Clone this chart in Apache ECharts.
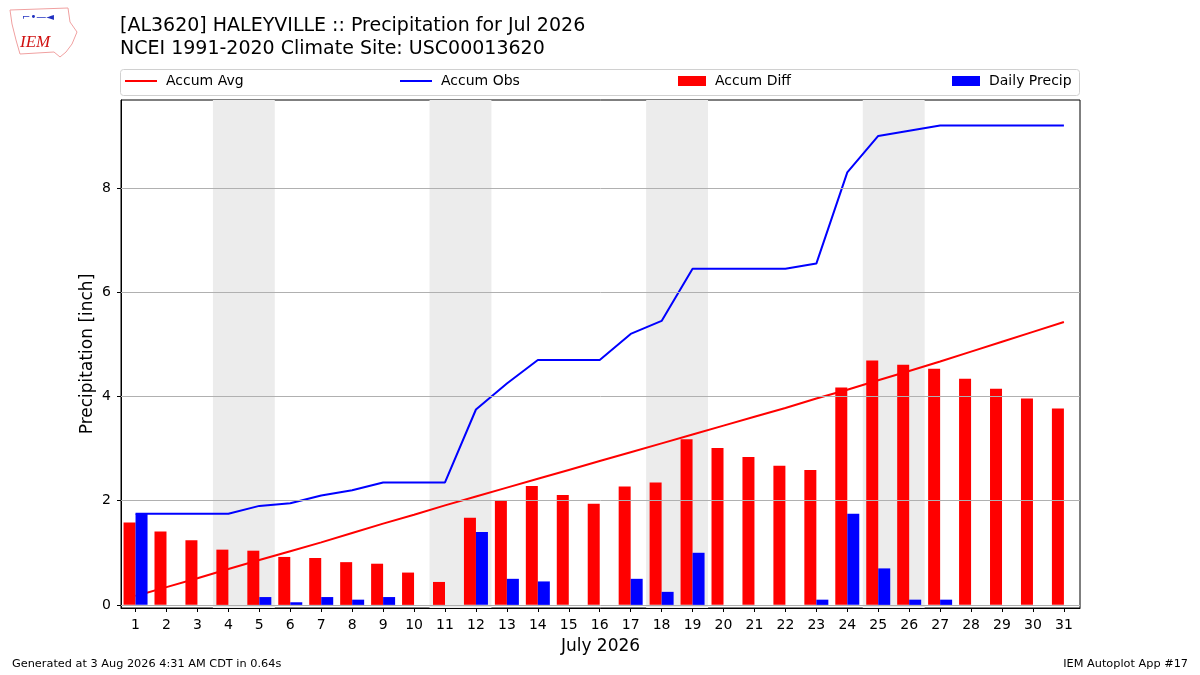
<!DOCTYPE html>
<html>
<head>
<meta charset="utf-8">
<script src="https://cdn.jsdelivr.net/npm/echarts@6/dist/echarts.min.js"></script>
<style>
  html, body { margin: 0; padding: 0; background: #fff; }
  #chart-1 { width: 1200px; height: 675px; }
</style>
</head>
<body>
<div id="chart-1"></div>
<script>
/**Data**/
var days = [1, 2, 3, 4, 5, 6, 7, 8, 9, 10, 11, 12, 13, 14, 15, 16, 17, 18, 19, 20, 21, 22, 23, 24, 25, 26, 27, 28, 29, 30, 31];
var accumAvg = [0.17, 0.34, 0.51, 0.69, 0.86, 1.03, 1.20, 1.38, 1.56, 1.73, 1.91, 2.08, 2.25, 2.42, 2.59, 2.76,
  2.93, 3.10, 3.27, 3.44, 3.61, 3.78, 3.96, 4.13, 4.31, 4.49, 4.67, 4.86, 5.05, 5.24, 5.43];
var accumObs = [1.75, 1.75, 1.75, 1.75, 1.90, 1.95, 2.10, 2.20, 2.35, 2.35, 2.35, 3.75, 4.25, 4.70, 4.70, 4.70,
  5.20, 5.45, 6.45, 6.45, 6.45, 6.45, 6.55, 8.30, 9.00, 9.10, 9.20, 9.20, 9.20, 9.20, 9.20];
var accumDiff = [1.58, 1.41, 1.24, 1.06, 1.04, 0.92, 0.90, 0.82, 0.79, 0.62, 0.44, 1.67, 2.00, 2.28, 2.11, 1.94,
  2.27, 2.35, 3.18, 3.01, 2.84, 2.67, 2.59, 4.17, 4.69, 4.61, 4.53, 4.34, 4.15, 3.96, 3.77];
var dailyPrecip = [1.75, 0, 0, 0, 0.15, 0.05, 0.15, 0.10, 0.15, 0, 0, 1.40, 0.50, 0.45, 0, 0,
  0.50, 0.25, 1.00, 0, 0, 0, 0.10, 1.75, 0.70, 0.10, 0.10, 0, 0, 0, 0];
var weekends = [[4, 5], [11, 12], [18, 19], [25, 26]];
var yTicks = [0, 2, 4, 6, 8];

function pairs(vals) {
  return days.map(function (d, i) { return [d, vals[i]]; });
}

var dom = document.getElementById("chart-1");
var Chart1 = echarts.init(dom, null, { renderer: "canvas" });

var font = "DejaVu Sans";
var legendText = { fontFamily: font, fontSize: 14, color: "#000", padding: [0, 0, 0, 4] };
var option;

option = {
  animation: false,
  textStyle: { fontFamily: font, color: "#000" },
  title: {
    text: "[AL3620] HALEYVILLE :: Precipitation for Jul 2026\nNCEI 1991-2020 Climate Site: USC00013620",
    left: 120,
    top: 15,
    padding: 0,
    textStyle: { fontFamily: font, fontSize: 19, fontWeight: "normal", lineHeight: 23, color: "#000" },
  },
  // one legend per entry, spread like matplotlib's expanded legend
  legend: [
    { data: ["Accum Avg"], left: 125, top: 74, padding: 0, itemWidth: 32, itemHeight: 2, icon: "rect",
      itemGap: 0, textStyle: legendText },
    { data: ["Accum Obs"], left: 400, top: 74, padding: 0, itemWidth: 32, itemHeight: 2, icon: "rect",
      textStyle: legendText },
    { data: ["Accum Diff"], left: 678, top: 74, padding: 0, itemWidth: 28, itemHeight: 10, icon: "rect",
      textStyle: legendText },
    { data: ["Daily Precip"], left: 952, top: 74, padding: 0, itemWidth: 28, itemHeight: 10, icon: "rect",
      textStyle: legendText },
  ],
  grid: { left: 121, right: 120, top: 100, bottom: 67, containLabel: false,
    show: true, borderColor: "#000", borderWidth: 1 },
  xAxis: {
    type: "value",
    min: 0.53,
    max: 31.52,
    name: "July 2026",
    nameLocation: "middle",
    nameGap: 30,
    nameMoveOverlap: false,
    nameTextStyle: { fontFamily: font, fontSize: 17 },
    axisLine: { show: true, onZero: false, lineStyle: { color: "#000", width: 1 } },
    axisTick: { show: true, customValues: days, length: 4, lineStyle: { color: "#000" } },
    axisLabel: { customValues: days, fontSize: 14, color: "#000", margin: 10 },
    splitLine: { show: false },
  },
  yAxis: {
    type: "value",
    min: -0.06,
    max: 9.69,
    name: "Precipitation [inch]",
    nameLocation: "middle",
    nameGap: 25,
    nameMoveOverlap: false,
    nameTextStyle: { fontFamily: font, fontSize: 17 },
    axisLine: { show: true, lineStyle: { color: "#000", width: 1 } },
    axisTick: { show: true, customValues: yTicks, length: 4, lineStyle: { color: "#000" } },
    axisLabel: { customValues: yTicks, fontSize: 14, color: "#000", margin: 10 },
    splitLine: { show: false },
  },
  series: [
    {
      name: "Accum Avg",
      type: "line",
      color: "#ff0000",
      showSymbol: false,
      lineStyle: { width: 2 },
      data: pairs(accumAvg),
      markArea: {
        silent: true,
        itemStyle: { color: "#ececec" },
        data: weekends.map(function (w) { return [{ xAxis: w[0] - 0.5 }, { xAxis: w[1] + 0.5 }]; }),
      },
      markLine: {
        silent: true,
        symbol: "none",
        label: { show: false },
        lineStyle: { color: "#b0b0b0", width: 1, type: "solid" },
        data: yTicks.map(function (t) { return { yAxis: t }; }),
      },
      z: 1,
    },
    {
      name: "Accum Obs",
      type: "line",
      color: "#0000ff",
      showSymbol: false,
      lineStyle: { width: 2 },
      data: pairs(accumObs),
      z: 1,
    },
    {
      name: "Accum Diff",
      type: "bar",
      color: "#ff0000",
      barWidth: 12,
      barGap: "0%",
      data: pairs(accumDiff),
      z: 2,
    },
    {
      name: "Daily Precip",
      type: "bar",
      color: "#0000ff",
      barWidth: 12,
      barGap: "0%",
      data: pairs(dailyPrecip),
      z: 2,
    },
  ],
  graphic: [
    // legend frame
    { type: "rect", x: 120.5, y: 69.5, shape: { width: 959, height: 26, r: 3 },
      style: { fill: "none", stroke: "#d0d0d0", lineWidth: 1 }, silent: true },
    // small IEM logo
    { type: "polyline", shape: { points: [[10, 10], [68, 8], [70, 22], [77, 32], [72, 44], [66, 52], [60, 57], [54, 52], [20, 54], [16, 40], [12, 24], [10, 10]] },
      style: { fill: "none", stroke: "#f0a0a0", lineWidth: 1 }, silent: true },
    { type: "text", left: 20, top: 34,
      style: { text: "IEM", fill: "#d01010", font: "italic 17px 'Liberation Serif'" }, silent: true },
    { type: "text", left: 22, top: 12,
      style: { text: "⌐•—◄", fill: "#2030c0", font: "10px 'DejaVu Sans'" }, silent: true },
    // footer
    { type: "text", left: 12, top: 659,
      style: { text: "Generated at 3 Aug 2026 4:31 AM CDT in 0.64s", fill: "#000", font: "11.3px 'DejaVu Sans'" } },
    { type: "text", right: 12, top: 659,
      style: { text: "IEM Autoplot App #17", fill: "#000", font: "11.3px 'DejaVu Sans'" } },
  ],
};

if (option && typeof option === "object") {
  Chart1.setOption(option);
}

window.addEventListener("resize", Chart1.resize);
</script>
</body>
</html>
